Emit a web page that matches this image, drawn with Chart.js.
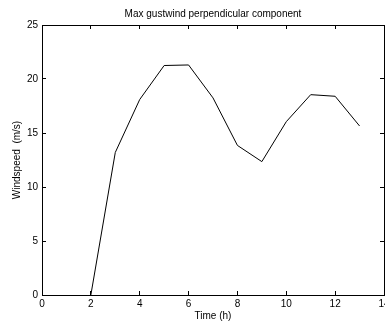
<!DOCTYPE html>
<html>
<head>
<meta charset="utf-8">
<script src="https://cdn.jsdelivr.net/npm/chart.js@4.4.0/dist/chart.umd.min.js"></script>
<style>
  html, body { margin: 0; padding: 0; background: #fff; }
  #wrap { width: 385px; height: 322px; }
</style>
</head>
<body>
<div id="wrap"><canvas id="c"></canvas></div>
<script>
// Values
const hours = [2, 3, 4, 5, 6, 7, 8, 9, 10, 11, 12, 13];
const gustSpeed = [0, 13.2, 18.1, 21.25, 21.3, 18.25, 13.85, 12.35, 16.05, 18.55, 18.4, 15.65];
const xTicks = [0, 2, 4, 6, 8, 10, 12, 14];
const yTicks = [0, 5, 10, 15, 20, 25];

const font = { family: "'Liberation Sans', Arial, Helvetica, sans-serif", size: 10, lineHeight: 1.2 };

// MATLAB like box: ticks pointing inwards, no grid
function boxAxis(extra) {
  return Object.assign({
    grid: { drawOnChartArea: false, drawTicks: true, tickLength: -4, tickColor: "#000", tickWidth: 1 },
    border: { display: true, color: "#000", width: 1 }
  }, extra);
}

const points = hours.map((h, i) => ({ x: h, y: gustSpeed[i] }));

new Chart(document.getElementById("c").getContext("2d"), {
  type: "line",
  data: {
    datasets: [{
      data: points,
      borderColor: "#000",
      borderWidth: 1,
      pointRadius: 0,
      tension: 0,
      fill: false
    }]
  },
  options: {
    responsive: true,
    maintainAspectRatio: false,
    animation: false,
    layout: { padding: 0, autoPadding: false },
    plugins: {
      legend: { display: false },
      tooltip: { enabled: false },
      title: {
        display: true,
        fullSize: false,
        text: "Max gustwind perpendicular component",
        color: "#000",
        font: Object.assign({}, font, { weight: "normal" }),
        padding: { top: 8, bottom: 5 }
      }
    },
    scales: {
      x: boxAxis({
        type: "linear",
        position: "bottom",
        min: 0, max: 14,
        afterBuildTicks: s => { s.ticks = xTicks.map(v => ({ value: v })); },
        ticks: { color: "#000", font: font, padding: 7, maxRotation: 0 },
        title: { display: true, text: "Time (h)", color: "#000", font: font, padding: { top: 0, bottom: 0 } },
        afterFit: s => { s.height = 27; s.paddingLeft = 0; s.paddingRight = 0; }
      }),
      x2: boxAxis({
        type: "linear",
        position: "top",
        min: 0, max: 14,
        afterBuildTicks: s => { s.ticks = xTicks.map(v => ({ value: v })); },
        ticks: { display: false },
        afterFit: s => { s.height = 0; s.paddingLeft = 0; s.paddingRight = 0; }
      }),
      y: boxAxis({
        type: "linear",
        position: "left",
        min: 0, max: 25,
        afterBuildTicks: s => { s.ticks = yTicks.map(v => ({ value: v })); },
        ticks: { color: "#000", font: font, padding: 8 },
        title: { display: true, text: "Windspeed  (m/s)", color: "#000", font: font, padding: { top: 11, bottom: 0 } },
        afterFit: s => { s.width = 42; s.paddingTop = 0; s.paddingBottom = 0; }
      }),
      y2: boxAxis({
        type: "linear",
        position: "right",
        min: 0, max: 25,
        afterBuildTicks: s => { s.ticks = yTicks.map(v => ({ value: v })); },
        ticks: { display: false },
        afterFit: s => { s.width = 1; s.paddingTop = 0; s.paddingBottom = 0; }
      })
    }
  }
});
</script>
</body>
</html>
